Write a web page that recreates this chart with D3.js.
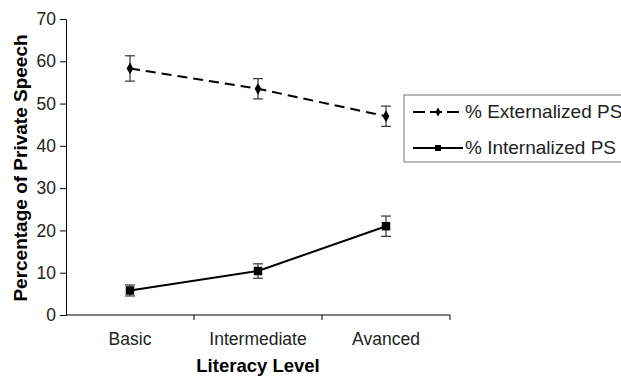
<!DOCTYPE html>
<html>
<head>
<meta charset="utf-8">
<script src="https://cdn.jsdelivr.net/npm/d3@7"></script>
<style>
  body { margin: 0; background: #fff; }
  svg { font-family: "Liberation Sans", Arial, sans-serif; }
</style>
</head>
<body>
<svg id="chart" width="621" height="376"></svg>
<script>
// Chart data
const levels = ["Basic", "Intermediate", "Avanced"];
const externalized = [58.3, 53.5, 47.0];
const externalizedErr = [3.0, 2.4, 2.4];
const internalized = [5.8, 10.4, 21.0];
const internalizedErr = [1.3, 1.7, 2.4];
const yTicks = [0, 10, 20, 30, 40, 50, 60, 70];
const seriesNames = ["% Externalized PS", "% Internalized PS"];

const svg = d3.select("#chart");
const margin = { left: 66, right: 171, top: 19, bottom: 61 };
const height = 376 - margin.top - margin.bottom;

const g = svg.append("g").attr("transform", `translate(${margin.left},${margin.top})`);

// Scales
const x = d3.scaleBand().domain(levels).range([0, 384]);
const y = d3.scaleLinear().domain([0, 70]).range([height, 0]);

// Y axis
const yAxis = g.append("g")
    .call(d3.axisLeft(y).tickValues(yTicks).tickSize(6).tickSizeOuter(0));
yAxis.select(".domain").attr("stroke", "#000");
yAxis.selectAll("text").attr("font-size", 17.5).attr("fill", "#222").attr("x", -10);

// X axis, ticks on category boundaries
const xAxis = g.append("g").attr("transform", `translate(0,${height})`);
xAxis.append("line").attr("x1", 0).attr("x2", 384).attr("stroke", "#000");
xAxis.selectAll(".bt")
    .data(levels)
    .enter().append("line")
    .attr("x1", d => x(d) + x.bandwidth())
    .attr("x2", d => x(d) + x.bandwidth())
    .attr("y1", 0).attr("y2", 5)
    .attr("stroke", "#000");
xAxis.selectAll(".lbl")
    .data(levels)
    .enter().append("text")
    .attr("x", d => x(d) + x.bandwidth() / 2)
    .attr("y", 30)
    .attr("text-anchor", "middle")
    .attr("font-size", 17.5)
    .attr("fill", "#222")
    .text(d => d);

// Axis titles
g.append("text")
    .attr("x", 192)
    .attr("y", height + 57)
    .attr("text-anchor", "middle")
    .attr("font-size", 18.5)
    .attr("font-weight", "bold")
    .text("Literacy Level");

svg.append("text")
    .attr("transform", `translate(27,${margin.top + height / 2 + 1}) rotate(-90)`)
    .attr("text-anchor", "middle")
    .attr("font-size", 19)
    .attr("font-weight", "bold")
    .text("Percentage of Private Speech");

const cx = d => x(d) + x.bandwidth() / 2;

// Draw one series with error bars and markers
function drawSeries(values, errs, dashed, marker) {
    const pts = levels.map((l, i) => ({ l, v: values[i], e: errs[i] }));
    const line = d3.line().x(d => cx(d.l)).y(d => y(d.v));
    g.append("path")
        .datum(pts)
        .attr("d", line)
        .attr("fill", "none")
        .attr("stroke", "#000")
        .attr("stroke-width", 2)
        .attr("stroke-dasharray", dashed ? "10,6" : null);

    const eb = g.selectAll(null).data(pts).enter().append("g").attr("stroke", "#333").attr("stroke-width", 1.2);
    eb.append("line").attr("x1", d => cx(d.l)).attr("x2", d => cx(d.l))
        .attr("y1", d => y(d.v + d.e)).attr("y2", d => y(d.v - d.e));
    eb.append("line").attr("x1", d => cx(d.l) - 5).attr("x2", d => cx(d.l) + 5)
        .attr("y1", d => y(d.v + d.e)).attr("y2", d => y(d.v + d.e));
    eb.append("line").attr("x1", d => cx(d.l) - 5).attr("x2", d => cx(d.l) + 5)
        .attr("y1", d => y(d.v - d.e)).attr("y2", d => y(d.v - d.e));

    g.selectAll(null).data(pts).enter().append("path")
        .attr("transform", d => `translate(${cx(d.l)},${y(d.v)})`)
        .attr("d", marker)
        .attr("fill", "#000");
}

const diamond = d3.symbol().type(d3.symbolDiamond).size(40)();
const square = d3.symbol().type(d3.symbolSquare).size(72)();

drawSeries(externalized, externalizedErr, true, diamond);
drawSeries(internalized, internalizedErr, false, square);

// Legend
const lg = svg.append("g").attr("transform", "translate(404,95)");
lg.append("rect")
    .attr("width", 230).attr("height", 67)
    .attr("fill", "#fff").attr("stroke", "#777").attr("stroke-width", 1);
const rows = [
    { name: seriesNames[0], dashed: true, marker: d3.symbol().type(d3.symbolDiamond).size(24)() },
    { name: seriesNames[1], dashed: false, marker: d3.symbol().type(d3.symbolSquare).size(36)() }
];
rows.forEach((r, i) => {
    const ry = 17 + i * 36;
    lg.append("line")
        .attr("x1", 9).attr("x2", 59).attr("y1", ry).attr("y2", ry)
        .attr("stroke", "#000").attr("stroke-width", 2)
        .attr("stroke-dasharray", r.dashed ? "12,5" : null);
    lg.append("path").attr("transform", `translate(34,${ry})`).attr("d", r.marker).attr("fill", "#000");
    lg.append("text")
        .attr("x", 61).attr("y", ry + 6)
        .attr("font-size", 19).attr("fill", "#222")
        .text(r.name);
});
</script>
</body>
</html>
